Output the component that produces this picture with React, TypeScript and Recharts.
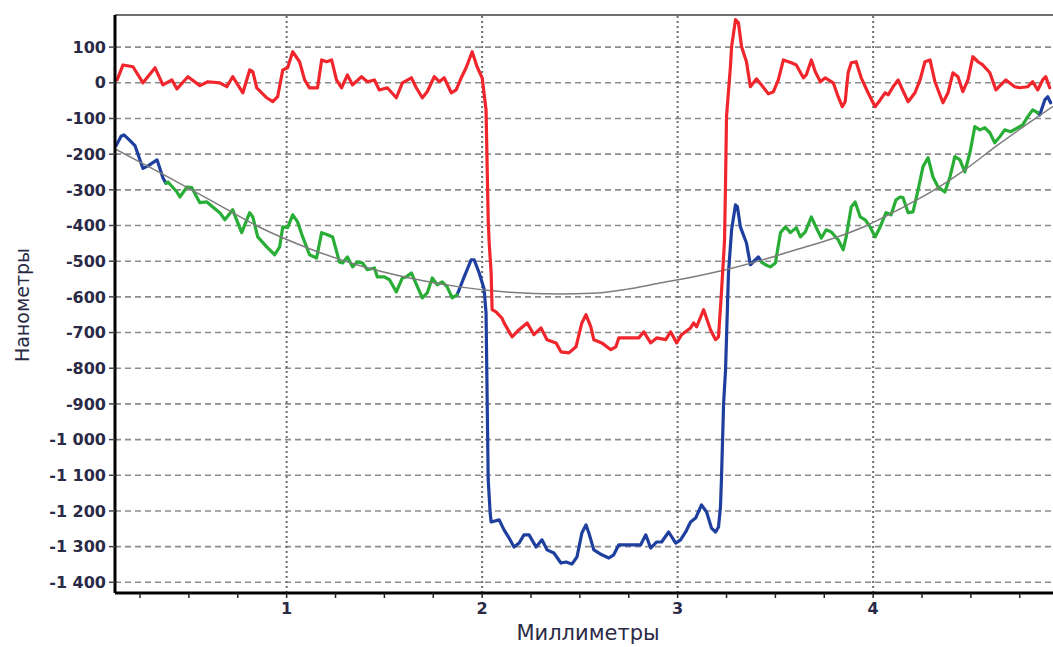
import { LineChart, Line, XAxis, YAxis, CartesianGrid, ReferenceLine } from 'recharts';

// [millimetres, nanometres]
const roughness: [number, number][] = [
  [0.133, 8], [0.163, 50], [0.214, 45], [0.265, 0], [0.327, 42], [0.367, -6], [0.413, 8], [0.439, -17],
  [0.495, 17], [0.556, -8], [0.597, 3], [0.658, 0], [0.694, -11], [0.724, 17], [0.776, -28], [0.811, 36],
  [0.827, 31], [0.847, -14], [0.898, -42], [0.929, -53], [0.954, -39], [0.98, 36], [1.005, 42], [1.031, 87],
  [1.066, 59], [1.092, 8], [1.117, -14], [1.158, -14], [1.179, 64], [1.204, 59], [1.23, 64], [1.255, 8],
  [1.281, -14], [1.311, 22], [1.337, -6], [1.383, 17], [1.413, 3], [1.449, 8], [1.474, -20], [1.515, -14],
  [1.561, -42], [1.592, 0], [1.638, 14], [1.663, -14], [1.694, -42], [1.719, -25], [1.755, 17], [1.781, 3],
  [1.806, 14], [1.842, -28], [1.867, -20], [1.893, 14], [1.918, 42], [1.949, 87], [1.974, 45], [2.0, 14],
  [2.02, -76], [2.026, -244], [2.031, -384], [2.036, -449], [2.046, -533], [2.051, -636], [2.071, -642],
  [2.102, -660], [2.112, -673], [2.153, -712], [2.189, -692], [2.23, -673], [2.265, -706], [2.301, -687],
  [2.332, -720], [2.378, -729], [2.403, -754], [2.444, -757], [2.48, -740], [2.51, -673], [2.531, -650],
  [2.556, -684], [2.571, -720], [2.612, -729], [2.658, -748], [2.684, -740], [2.699, -715], [2.801, -715],
  [2.827, -698], [2.862, -729], [2.893, -715], [2.939, -720], [2.964, -698], [2.995, -729], [3.02, -706],
  [3.066, -687], [3.082, -673], [3.097, -684], [3.133, -636], [3.168, -692], [3.194, -720], [3.209, -712],
  [3.224, -589], [3.24, -440], [3.245, -278], [3.25, -95], [3.27, 45], [3.276, 101], [3.296, 177],
  [3.311, 168], [3.327, 101], [3.352, 59], [3.372, -11], [3.403, 11], [3.429, -6], [3.464, -31],
  [3.49, -25], [3.515, 8], [3.541, 64], [3.582, 56], [3.607, 50], [3.643, 14], [3.658, 22], [3.684, 64],
  [3.704, 31], [3.73, 3], [3.755, 14], [3.796, 0], [3.821, -39], [3.842, -67], [3.857, -53], [3.872, 28],
  [3.888, 56], [3.913, 59], [3.939, 14], [3.974, -28], [4.01, -67], [4.036, -48], [4.061, -28], [4.077, -34],
  [4.102, -11], [4.128, 8], [4.143, -11], [4.179, -53], [4.214, -28], [4.24, 8], [4.265, 59], [4.291, 64],
  [4.316, 3], [4.357, -56], [4.383, -28], [4.408, 28], [4.434, 17], [4.459, -25], [4.485, 8], [4.51, 73],
  [4.536, 59], [4.561, 50], [4.597, 28], [4.628, -20], [4.653, -6], [4.679, 8], [4.724, -11], [4.75, -14],
  [4.791, -11], [4.816, 3], [4.842, -20], [4.867, 8], [4.883, 17], [4.903, -14],
];

const profileStart: [number, number][] = [
  [0.128, -176], [0.153, -150], [0.168, -146], [0.199, -162], [0.224, -176], [0.265, -240], [0.291, -233],
  [0.337, -216], [0.367, -266], [0.383, -282],
];

const fitLeft: [number, number][] = [
  [0.383, -282], [0.393, -278], [0.439, -306], [0.454, -320], [0.49, -292], [0.515, -294], [0.556, -336],
  [0.592, -334], [0.622, -348], [0.658, -364], [0.684, -384], [0.724, -356], [0.77, -420], [0.811, -364],
  [0.827, -376], [0.852, -432], [0.898, -460], [0.939, -482], [0.964, -460], [0.98, -404], [1.005, -406],
  [1.031, -370], [1.056, -390], [1.082, -432], [1.117, -482], [1.153, -491], [1.179, -420], [1.209, -426],
  [1.235, -432], [1.27, -502], [1.286, -505], [1.311, -488], [1.337, -516], [1.362, -502], [1.388, -505],
  [1.413, -524], [1.449, -519], [1.464, -544], [1.5, -544], [1.526, -552], [1.561, -586], [1.592, -547],
  [1.612, -544], [1.638, -533], [1.653, -552], [1.694, -603], [1.719, -589], [1.745, -547], [1.77, -566],
  [1.796, -558], [1.821, -572], [1.847, -603], [1.872, -594],
];

const profileStep: [number, number][] = [
  [1.872, -594], [1.908, -544], [1.944, -496], [1.959, -496], [1.985, -533], [2.01, -578], [2.02, -645],
  [2.026, -900], [2.031, -1113], [2.041, -1205], [2.046, -1231], [2.087, -1225], [2.112, -1253],
  [2.138, -1276], [2.163, -1301], [2.189, -1290], [2.214, -1267], [2.24, -1267], [2.276, -1301],
  [2.306, -1281], [2.332, -1309], [2.367, -1318], [2.403, -1346], [2.429, -1343], [2.459, -1349],
  [2.485, -1329], [2.51, -1262], [2.531, -1239], [2.546, -1262], [2.571, -1309], [2.612, -1323],
  [2.648, -1332], [2.673, -1323], [2.699, -1295], [2.811, -1295], [2.837, -1267], [2.862, -1304],
  [2.893, -1287], [2.918, -1287], [2.954, -1259], [2.99, -1290], [3.015, -1281], [3.041, -1259],
  [3.066, -1231], [3.092, -1220], [3.122, -1183], [3.148, -1203], [3.173, -1248], [3.194, -1259],
  [3.209, -1245], [3.219, -1189], [3.224, -1113], [3.235, -900], [3.245, -805], [3.26, -533], [3.276, -412],
  [3.296, -342], [3.306, -348], [3.321, -404], [3.352, -449], [3.372, -510], [3.398, -496], [3.413, -488],
  [3.429, -502],
];

const fitRight: [number, number][] = [
  [3.429, -502], [3.449, -510], [3.474, -516], [3.5, -505], [3.526, -420], [3.551, -404], [3.577, -420],
  [3.607, -406], [3.628, -432], [3.653, -418], [3.684, -376], [3.709, -406], [3.735, -435], [3.76, -412],
  [3.786, -418], [3.821, -440], [3.847, -468], [3.862, -432], [3.888, -348], [3.908, -334], [3.934, -376],
  [3.959, -384], [3.985, -404], [4.01, -432], [4.036, -404], [4.066, -364], [4.092, -370], [4.117, -328],
  [4.138, -320], [4.153, -322], [4.179, -364], [4.204, -362], [4.23, -300], [4.255, -235], [4.281, -210],
  [4.306, -264], [4.332, -292], [4.367, -306], [4.393, -264], [4.418, -207], [4.444, -216], [4.469, -250],
  [4.495, -196], [4.52, -123], [4.546, -132], [4.571, -126], [4.597, -140], [4.622, -168], [4.648, -151],
  [4.673, -132], [4.704, -137], [4.74, -126], [4.765, -118], [4.791, -95], [4.816, -76], [4.842, -84],
];

const profileEnd: [number, number][] = [
  [4.842, -84], [4.852, -90], [4.878, -48], [4.893, -39], [4.908, -56],
];

const formCurve: [number, number][] = [
  [0.122, -185], [0.352, -252], [0.607, -328], [0.862, -405], [1.117, -465], [1.372, -512], [1.628, -547],
  [1.883, -572], [2.138, -587], [2.393, -592], [2.561, -590], [2.735, -579], [2.903, -562], [3.071, -545],
  [3.245, -524], [3.449, -494], [3.617, -466], [3.786, -438], [3.959, -402], [4.128, -356], [4.296, -306],
  [4.469, -244], [4.638, -174], [4.806, -109], [4.92, -66],
];

const xTicks = [0.25, 0.5, 0.75, 1, 1.25, 1.5, 1.75, 2, 2.25, 2.5, 2.75, 3, 3.25, 3.5, 3.75, 4, 4.25, 4.5, 4.75];
const xGrid = [1, 2, 3, 4];
const yTicks = [100, 0, -100, -200, -300, -400, -500, -600, -700, -800, -900, -1000, -1100, -1200, -1300, -1400];

const toRows = (pts: [number, number][]) => pts.map(([x, y]) => ({ x, y }));

const fmtNm = (v: number) => {
  const s = String(Math.abs(v));
  const grouped = s.length > 3 ? s.slice(0, -3) + ' ' + s.slice(-3) : s;
  return (v < 0 ? '-' : '') + grouped;
};

const font = "'DejaVu Sans', 'Liberation Sans', Arial, sans-serif";
const tickStyle = { fontSize: 16, fontWeight: 700, fill: '#2a2a46', fontFamily: font };

const RED = '#f0262c';
const BLUE = '#1f3f9e';
const GREEN = '#28ad36';

const lineProps = { strokeWidth: 3.2, dot: false, isAnimationActive: false, strokeLinejoin: 'round' as const, strokeLinecap: 'round' as const };

export default function App() {
  return (
    <div style={{ position: 'absolute', left: 0, top: 0, width: 1053, height: 647, overflow: 'hidden', background: '#fff' }}>
      <LineChart width={1053} height={647} margin={{ top: 15, right: 0, bottom: 0, left: 0 }}>
        <CartesianGrid horizontal vertical={false} stroke="#8c8c8c" strokeWidth={1.6} strokeDasharray="6 4" />
        <XAxis
          type="number"
          dataKey="x"
          domain={[0.122, 4.92]}
          allowDataOverflow
          ticks={xTicks}
          tickFormatter={(v: number) => (Number.isInteger(v) ? String(v) : '')}
          tick={tickStyle}
          tickSize={5}
          tickMargin={5}
          tickLine={{ stroke: '#222', strokeWidth: 1.5 }}
          axisLine={{ stroke: '#000', strokeWidth: 3 }}
          height={54}
          label={{
            content: () => (
              <text x={588} y={640} textAnchor="middle" fontSize={21} fill="#2a2a46" fontFamily={font}>Миллиметры</text>
            ),
          }}
        />
        <YAxis
          type="number"
          domain={[-1430, 190]}
          allowDataOverflow
          ticks={yTicks}
          tickFormatter={fmtNm}
          tick={tickStyle}
          tickSize={6}
          tickMargin={3}
          tickLine={{ stroke: '#444', strokeWidth: 1.5 }}
          axisLine={{ stroke: '#000', strokeWidth: 3 }}
          width={115}
          label={{
            content: () => (
              <text x={29} y={305} textAnchor="middle" fontSize={19} fill="#2a2a46" fontFamily={font} transform="rotate(-90 29 305)">Нанометры</text>
            ),
          }}
        />
        <ReferenceLine y={190} stroke="#6e6e6e" strokeWidth={2} />
        {xGrid.map((g) => (
          <ReferenceLine key={g} x={g} stroke="#6e6e6e" strokeWidth={2} strokeDasharray="2 3" />
        ))}
        <Line data={toRows(profileStart)} dataKey="y" stroke={BLUE} {...lineProps} />
        <Line data={toRows(profileStep)} dataKey="y" stroke={BLUE} {...lineProps} />
        <Line data={toRows(profileEnd)} dataKey="y" stroke={BLUE} {...lineProps} />
        <Line data={toRows(fitLeft)} dataKey="y" stroke={GREEN} {...lineProps} />
        <Line data={toRows(fitRight)} dataKey="y" stroke={GREEN} {...lineProps} />
        <Line data={toRows(formCurve)} dataKey="y" type="monotone" stroke="#7d7d7d" strokeWidth={1.5} dot={false} isAnimationActive={false} />
        <Line data={toRows(roughness)} dataKey="y" stroke={RED} {...lineProps} />
      </LineChart>
    </div>
  );
}
